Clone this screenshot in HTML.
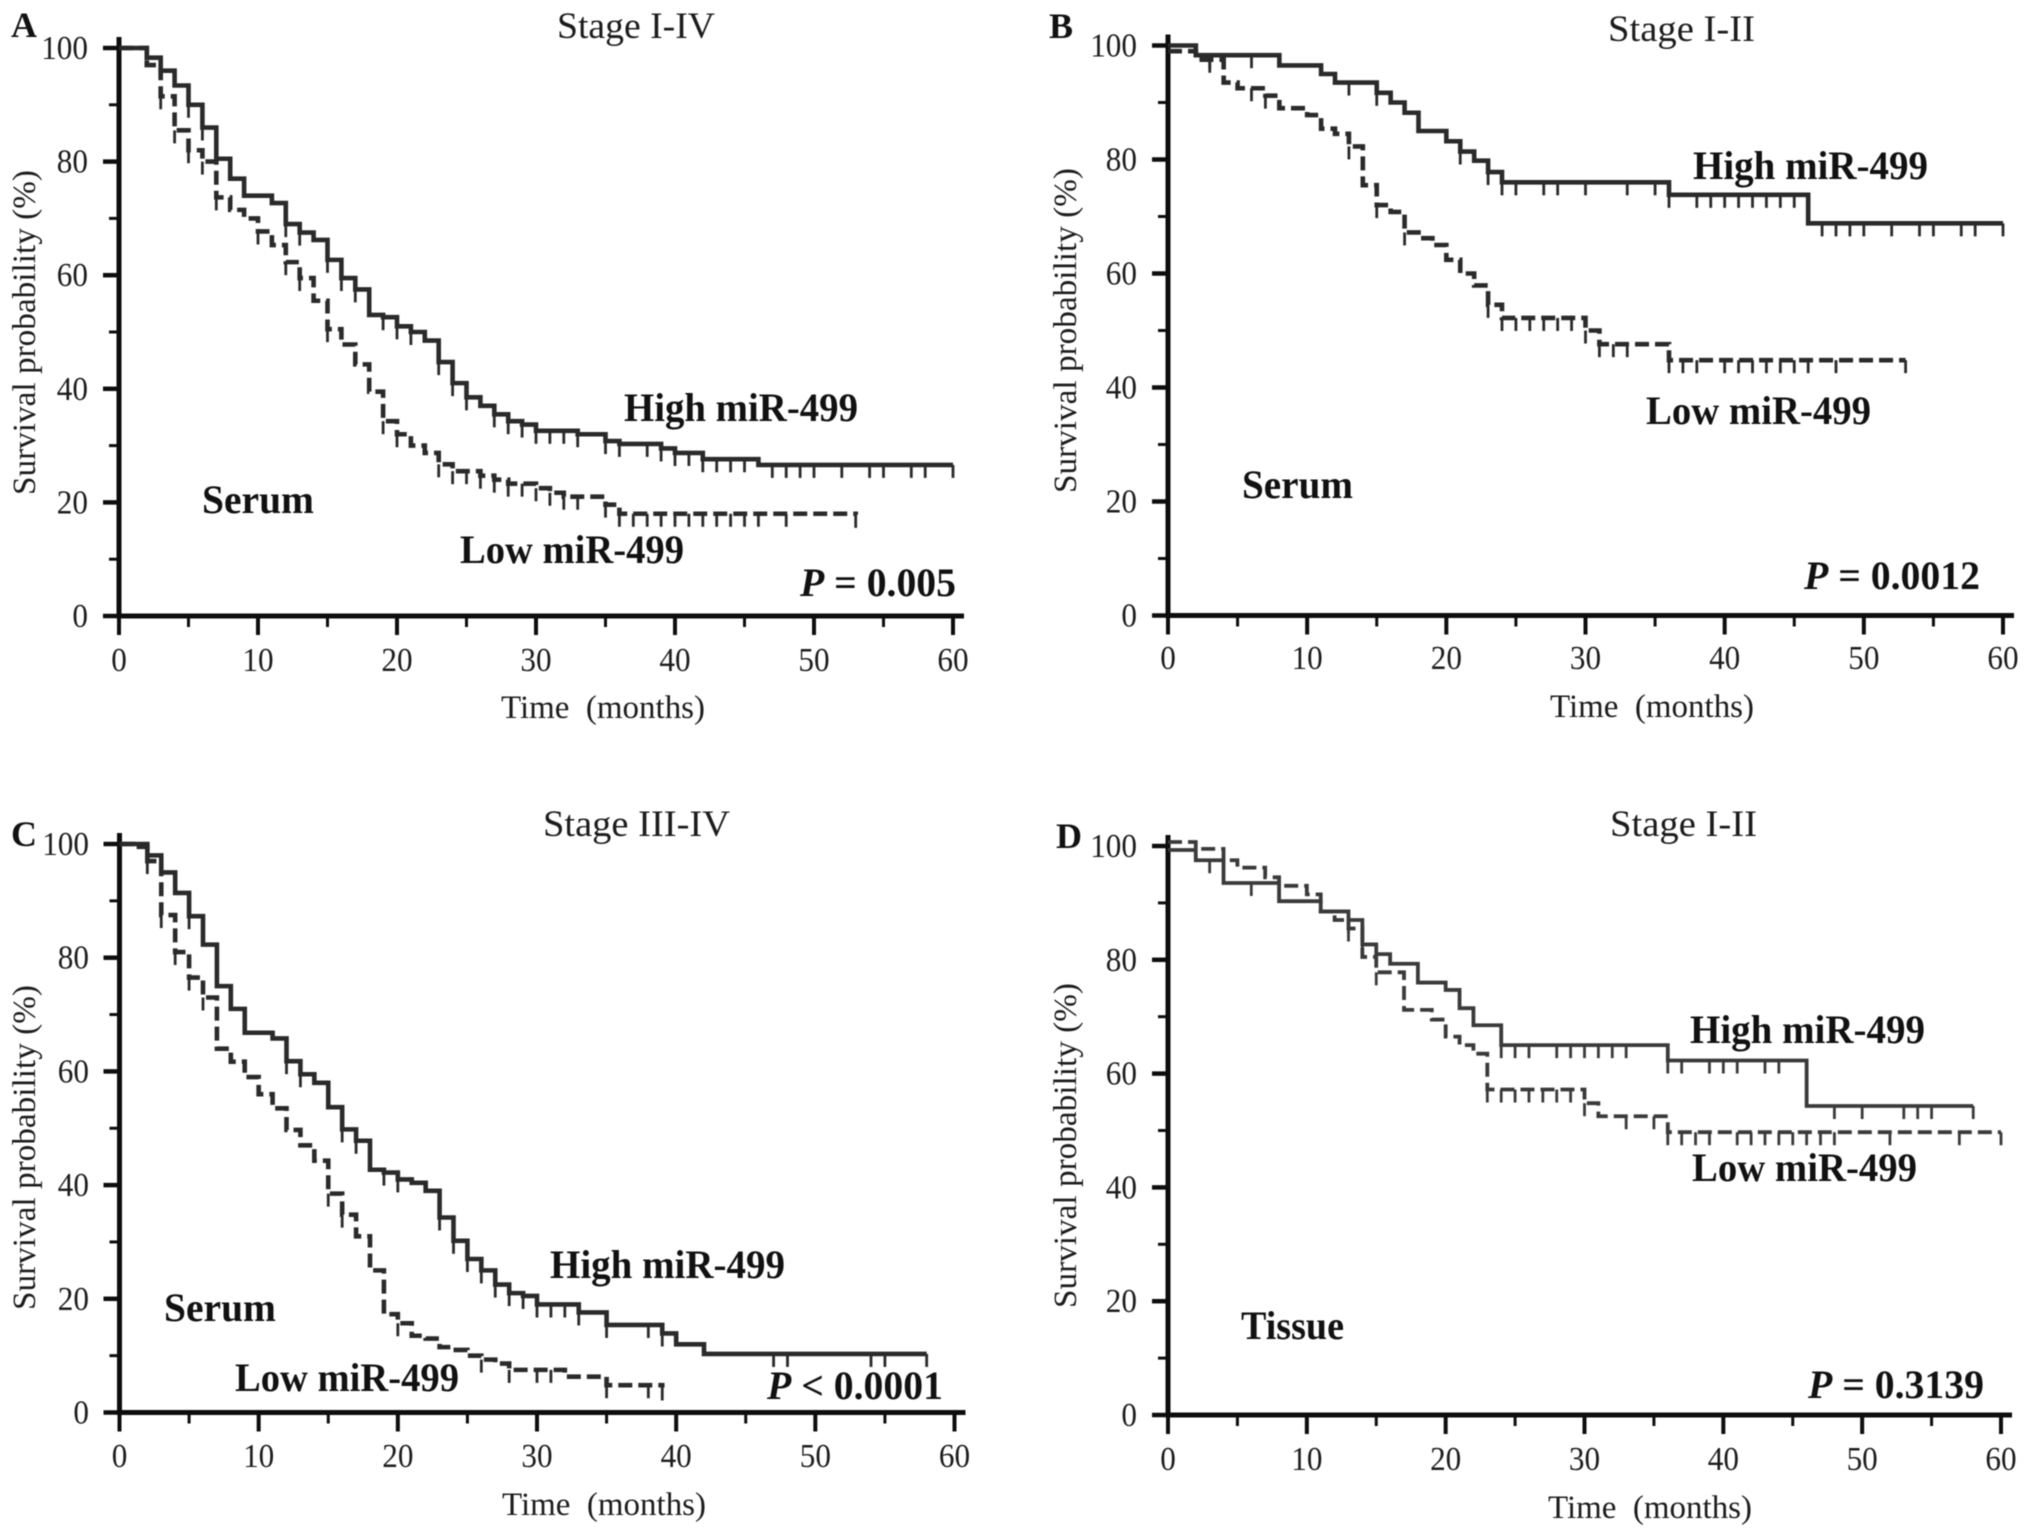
<!DOCTYPE html>
<html lang="en">
<head>
<meta charset="utf-8">
<title>Survival curves by miR-499 expression</title>
<style>
html,body{margin:0;padding:0;background:#fff;}
svg{display:block;filter:blur(0.5px);}
text{font-family:"Liberation Serif",serif;fill:#1c1c1c;}
.b{font-weight:bold;fill:#111;}
</style>
</head>
<body>
<svg id="figure" xmlns="http://www.w3.org/2000/svg" width="2031" height="1535" viewBox="0 0 2031 1535">
<rect width="2031" height="1535" fill="#fff"/>

<g>
<text class="b" x="11" y="37" font-size="36">A</text>
<text x="557" y="38" font-size="37" textLength="158" lengthAdjust="spacingAndGlyphs">Stage I-IV</text>
<text class="b" x="624" y="421" font-size="40" textLength="234" lengthAdjust="spacingAndGlyphs">High miR-499</text>
<text class="b" x="460" y="563" font-size="40" textLength="224" lengthAdjust="spacingAndGlyphs">Low miR-499</text>
<text class="b" x="202" y="513" font-size="40" textLength="112" lengthAdjust="spacingAndGlyphs">Serum</text>
<text class="b" x="800" y="596" font-size="40" textLength="156" lengthAdjust="spacingAndGlyphs"><tspan font-style="italic">P</tspan> = 0.005</text>
<text x="501" y="718" font-size="33" textLength="204" lengthAdjust="spacingAndGlyphs">Time&#160; (months)</text>
<text transform="translate(35 495) rotate(-90)" font-size="33" textLength="325" lengthAdjust="spacingAndGlyphs">Survival probability (%)</text>
</g>

<g>
<text class="b" x="1049" y="38" font-size="36">B</text>
<text x="1608" y="41" font-size="37" textLength="147" lengthAdjust="spacingAndGlyphs">Stage I-II</text>
<text class="b" x="1693" y="179" font-size="40" textLength="235" lengthAdjust="spacingAndGlyphs">High miR-499</text>
<text class="b" x="1646" y="424" font-size="40" textLength="225" lengthAdjust="spacingAndGlyphs">Low miR-499</text>
<text class="b" x="1242" y="498" font-size="40" textLength="111" lengthAdjust="spacingAndGlyphs">Serum</text>
<text class="b" x="1804" y="589" font-size="40" textLength="176" lengthAdjust="spacingAndGlyphs"><tspan font-style="italic">P</tspan> = 0.0012</text>
<text x="1550" y="717" font-size="33" textLength="204" lengthAdjust="spacingAndGlyphs">Time&#160; (months)</text>
<text transform="translate(1076 493) rotate(-90)" font-size="33" textLength="325" lengthAdjust="spacingAndGlyphs">Survival probability (%)</text>
</g>

<g>
<text class="b" x="11" y="846" font-size="36">C</text>
<text x="543" y="836" font-size="37" textLength="187" lengthAdjust="spacingAndGlyphs">Stage III-IV</text>
<text class="b" x="550" y="1278" font-size="40" textLength="235" lengthAdjust="spacingAndGlyphs">High miR-499</text>
<text class="b" x="235" y="1391" font-size="40" textLength="224" lengthAdjust="spacingAndGlyphs">Low miR-499</text>
<text class="b" x="164" y="1321" font-size="40" textLength="112" lengthAdjust="spacingAndGlyphs">Serum</text>
<text class="b" x="767" y="1399" font-size="40" textLength="176" lengthAdjust="spacingAndGlyphs"><tspan font-style="italic">P</tspan> &lt; 0.0001</text>
<text x="502" y="1515" font-size="33" textLength="204" lengthAdjust="spacingAndGlyphs">Time&#160; (months)</text>
<text transform="translate(35 1310) rotate(-90)" font-size="33" textLength="325" lengthAdjust="spacingAndGlyphs">Survival probability (%)</text>
</g>

<g>
<text class="b" x="1056" y="848" font-size="36">D</text>
<text x="1610" y="836" font-size="37" textLength="147" lengthAdjust="spacingAndGlyphs">Stage I-II</text>
<text class="b" x="1690" y="1043" font-size="40" textLength="235" lengthAdjust="spacingAndGlyphs">High miR-499</text>
<text class="b" x="1692" y="1181" font-size="40" textLength="225" lengthAdjust="spacingAndGlyphs">Low miR-499</text>
<text class="b" x="1241" y="1339" font-size="40" textLength="103" lengthAdjust="spacingAndGlyphs">Tissue</text>
<text class="b" x="1808" y="1398" font-size="40" textLength="176" lengthAdjust="spacingAndGlyphs"><tspan font-style="italic">P</tspan> = 0.3139</text>
<text x="1548" y="1518" font-size="33" textLength="204" lengthAdjust="spacingAndGlyphs">Time&#160; (months)</text>
<text transform="translate(1076 1308) rotate(-90)" font-size="33" textLength="325" lengthAdjust="spacingAndGlyphs">Survival probability (%)</text>
</g>
</svg>

<script>
// Axis tick labels shared by all panels
const xTickLabels = [0, 10, 20, 30, 40, 50, 60];
const yTickLabels = [0, 20, 40, 60, 80, 100];
const xMinorTicks = [5, 15, 25, 35, 45, 55];
const yMinorTicks = [10, 30, 50, 70, 90];

// Panel A
const aHighMonths = [0,2,3,4,5,6,7,8,9,11,12,13,14,15,16,17,18,19,20,21,22,23,24,25,26,27,28,29,30,33,35,36,39,40,42,46,60];
const aHighSurvival = [100,98.3,96,93.4,90,86,80.5,77,74,72.7,69,67.5,66.2,62.7,59.5,57.5,53,52.6,51,50,48.5,44.7,41,38.5,37,35.5,34.3,33.7,32.6,32,30.8,30.3,29.5,28.7,27.6,26.6,26.6];
const aHighCensored = [5,6,12,13,15,16,17,19,20,21,23,24,25,27,28,29,30,31,32,33,35,36,38,39,40,41,42,43,44,45,47,48,49,50,52,54,55,57,58,60];
const aLowMonths = [0,2,3,4,5,6,7,8,9,10,11,12,13,14,15,16,17,18,19,20,21,22,23,24,26,27,28,30,31,32,35,36,53];
const aLowSurvival = [100,97,91.5,85.5,82,80,73.7,71.5,70,67.7,65.3,62.3,59.5,55.5,50.5,47.8,44.3,39.5,34.3,32,30,28.7,26.7,25.5,24.7,24,23.3,22.5,21.7,21,19.6,18,17.8];
const aLowCensored = [3,4,5,6,7,10,12,13,15,19,20,23,24,25,26,27,28,29,30,31,32,33,35,36,37,38,39,40,41,42,43,44,45,46,48,53];

// Panel B
const bHighMonths = [0,2,8,11,12,15,16,17,18,20,21,22,23,24,36,46,60];
const bHighSurvival = [100,98.3,96.5,95,93.5,91.7,90,88.2,85,83.2,81.4,79.8,77.8,76,73.8,68.8,68.8];
const bHighCensored = [3,6,13,15,21,23,24,25,27,28,30,33,35,36,38,39,40,41,42,43,44,45,47,48,49,50,52,54,55,57,58,60];
const bLowMonths = [0,2,4,5,7,8,10,11,12,13,14,15,16,17,18,19,20,21,22,23,24,30,31,36,53];
const bLowSurvival = [99,97.5,93.5,92.5,91.2,89,87.8,85.4,84.5,82.3,75.5,72,70.8,67.2,66.2,65,62.4,60,57.9,54.5,52.2,50,47.6,44.8,44.8];
const bLowCensored = [3,6,7,13,15,17,23,24,25,26,27,28,29,30,31,32,33,36,37,38,40,41,42,43,44,45,46,48,53];

// Panel C
const cHighMonths = [0,2,3,4,5,6,7,8,9,11,12,13,14,15,16,17,18,19,20,21,22,23,24,25,26,27,28,29,30,33,35,39,40,42,58];
const cHighSurvival = [100,98,95,91.4,87.3,82.3,75,71,66.8,65.8,61.8,59.5,58,53.7,49.8,47.8,42.7,42.2,41,40.4,39,34.3,30.2,27,25,22.5,21,20.5,19,17.6,15.4,13.9,12,10.3,10.3];
const cHighCensored = [5,12,13,16,17,19,20,23,24,25,26,27,28,29,30,31,32,33,35,38,39,47,48,54,55,58];
const cLowMonths = [0,1,2,3,4,5,6,7,8,9,10,11,12,13,14,15,16,17,18,19,20,21,22,23,24,25,26,27,28,31,32,35,39];
const cLowSurvival = [100,99.5,97,87.5,81,76.5,73,64,61.7,59,56,53.5,49.7,47,44.3,38.5,34.8,31,25,17.3,15.7,13.5,13,11.5,11,10,9.3,8.6,7.5,7.5,6.3,4.8,4.4];
const cLowCensored = [2,3,4,5,6,15,16,20,26,28,30,31,35,38,39];

// Panel D
const dHighMonths = [0,2,4,8,11,13,14,15,16,18,20,21,22,24,36,46,58];
const dHighSurvival = [99.3,97.5,93.5,90.3,88.5,87,82.7,81,79.3,76,74.7,71.5,68.5,65,62.3,54.3,54.3];
const dHighCensored = [3,6,13,14,24,25,26,28,29,30,31,32,33,36,37,39,40,41,43,44,48,50,53,54,55,58];
const dLowMonths = [0,2,4,5,7,8,10,11,12,13,14,15,17,19,20,21,22,23,30,31,36,60];
const dLowSurvival = [100.7,99.5,97.5,96.2,94.5,93,91.5,88.5,87,85.5,80.5,77.8,71.2,69.5,66.5,65,63.5,57.2,54.8,52.5,49.7,49.7];
const dLowCensored = [13,15,23,24,25,26,27,28,29,30,33,35,36,37,38,39,41,42,43,44,45,46,47,48,52,57,60];

const SVG_NS = 'http://www.w3.org/2000/svg';
const figure = document.getElementById('figure');

function makeXScale(x0, x60) {
  return function (months) { return x0 + (x60 - x0) * months / 60; };
}
function makeYScale(y0, y100) {
  return function (pct) { return y0 + (y100 - y0) * pct / 100; };
}
function survivalAt(months, values, t) {
  let v = values[0];
  for (let i = 0; i < months.length; i++) {
    if (months[i] <= t) { v = values[i]; }
  }
  return v;
}
function makeEl(tag, parent) {
  const el = document.createElementNS(SVG_NS, tag);
  parent.appendChild(el);
  return el;
}
function drawLine(parent, x1, y1, x2, y2, width, color) {
  const l = makeEl('line', parent);
  l.setAttribute('x1', x1);
  l.setAttribute('y1', y1);
  l.setAttribute('x2', x2);
  l.setAttribute('y2', y2);
  l.setAttribute('stroke', color);
  l.setAttribute('stroke-width', width);
  return l;
}
function fitDigits(lab, value) {
  lab.setAttribute('font-size', '34');
  lab.setAttribute('textLength', String(value).length * 15.6);
  lab.setAttribute('lengthAdjust', 'spacingAndGlyphs');
}

function drawAxes(key, sx, sy, tickBaseline, labelRight) {
  const g = makeEl('g', figure);
  
  
  const xAxis = drawLine(g, sx(0) - 2.5, sy(0), sx(60) + 11, sy(0), 5, '#0d0d0d');
  
  
  const yAxis = drawLine(g, sx(0), sy(0) + 2.5, sx(0), sy(100) - 11, 5, '#0d0d0d');
  
  

  xTickLabels.forEach(function (v) {
    const t = drawLine(g, sx(v), sy(0), sx(v), sy(0) + 19, 4, '#0d0d0d');
    
    
    const lab = makeEl('text', g);
    
    
    lab.setAttribute('x', sx(v));
    lab.setAttribute('y', tickBaseline);
    lab.setAttribute('text-anchor', 'middle');
    fitDigits(lab, v);
    lab.textContent = v;
  });
  xMinorTicks.forEach(function (v) {
    const t = drawLine(g, sx(v), sy(0), sx(v), sy(0) + 11, 3, '#0d0d0d');
    
    
  });
  yTickLabels.forEach(function (v) {
    const t = drawLine(g, sx(0) - 16, sy(v), sx(0), sy(v), 4.5, '#0d0d0d');
    
    
    const lab = makeEl('text', g);
    
    
    lab.setAttribute('x', labelRight);
    lab.setAttribute('y', sy(v) + 11);
    lab.setAttribute('text-anchor', 'end');
    fitDigits(lab, v);
    lab.textContent = v;
  });
  yMinorTicks.forEach(function (v) {
    const t = drawLine(g, sx(0) - 10, sy(v), sx(0), sy(v), 3, '#0d0d0d');
    
    
  });
}

function drawCurve(key, label, sx, sy, months, values, censored, dashed, width, color) {
  const g = makeEl('g', figure);
  
  
  let d = 'M' + sx(months[0]) + ' ' + sy(values[0]);
  for (let i = 1; i < months.length; i++) {
    d += 'H' + sx(months[i]) + 'V' + sy(values[i]);
  }
  const path = makeEl('path', g);
  
  
  path.setAttribute('d', d);
  path.setAttribute('fill', 'none');
  path.setAttribute('stroke', color);
  path.setAttribute('stroke-width', width);
  path.setAttribute('stroke-linejoin', 'miter');
  if (dashed) { path.setAttribute('stroke-dasharray', '14 6'); }
  censored.forEach(function (t) {
    const v = survivalAt(months, values, t);
    const c = drawLine(g, sx(t), sy(v), sx(t), sy(v) + 13, 2.8, color);
    
    
  });
}

const scaleAX = makeXScale(119, 953), scaleAY = makeYScale(616, 48);
drawAxes('panel-a', scaleAX, scaleAY, 671, 88);
drawCurve('panel-a', 'low', scaleAX, scaleAY, aLowMonths, aLowSurvival, aLowCensored, true, 4.6, '#2a2a2a');
drawCurve('panel-a', 'high', scaleAX, scaleAY, aHighMonths, aHighSurvival, aHighCensored, false, 4.6, '#2a2a2a');

const scaleBX = makeXScale(1168, 2003), scaleBY = makeYScale(615.5, 45.5);
drawAxes('panel-b', scaleBX, scaleBY, 669, 1137);
drawCurve('panel-b', 'low', scaleBX, scaleBY, bLowMonths, bLowSurvival, bLowCensored, true, 4.6, '#2a2a2a');
drawCurve('panel-b', 'high', scaleBX, scaleBY, bHighMonths, bHighSurvival, bHighCensored, false, 4.6, '#2a2a2a');

const scaleCX = makeXScale(119.5, 954.5), scaleCY = makeYScale(1412.5, 844);
drawAxes('panel-c', scaleCX, scaleCY, 1467, 89);
drawCurve('panel-c', 'low', scaleCX, scaleCY, cLowMonths, cLowSurvival, cLowCensored, true, 4.6, '#2a2a2a');
drawCurve('panel-c', 'high', scaleCX, scaleCY, cHighMonths, cHighSurvival, cHighCensored, false, 4.6, '#2a2a2a');

const scaleDX = makeXScale(1168, 2001), scaleDY = makeYScale(1415, 846);
drawAxes('panel-d', scaleDX, scaleDY, 1470, 1137);
drawCurve('panel-d', 'low', scaleDX, scaleDY, dLowMonths, dLowSurvival, dLowCensored, true, 3.8, '#3a3a3a');
drawCurve('panel-d', 'high', scaleDX, scaleDY, dHighMonths, dHighSurvival, dHighCensored, false, 3.8, '#3a3a3a');
</script>
</body>
</html>
